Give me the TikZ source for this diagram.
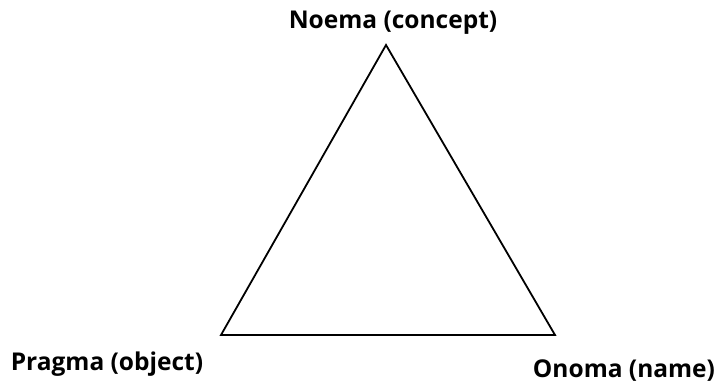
\documentclass[tikz,border=0pt]{standalone}
\usepackage{fontspec}
\setmainfont{Open Sans}
\begin{document}
\begin{tikzpicture}[x=1pt,y=-1pt,
  lbl/.style={font=\fontsize{24.5}{28}\selectfont\bfseries, inner sep=0pt, anchor=base},
  edge/.style={line width=1.8pt, line join=miter}]
\useasboundingbox (0,0) rectangle (722,383);
\coordinate (apex) at (386,45);
\coordinate (left) at (221,335);
\coordinate (right) at (555,335);
\draw[edge] (apex) -- (left) -- (right) -- cycle;
\node[lbl] (noema) at (393,28) {Noema (concept)};
\node[lbl] (pragma) at (107,370) {Pragma (object)};
\node[lbl] (onoma) at (624,377) {Onoma (name)};
\end{tikzpicture}
\end{document}
